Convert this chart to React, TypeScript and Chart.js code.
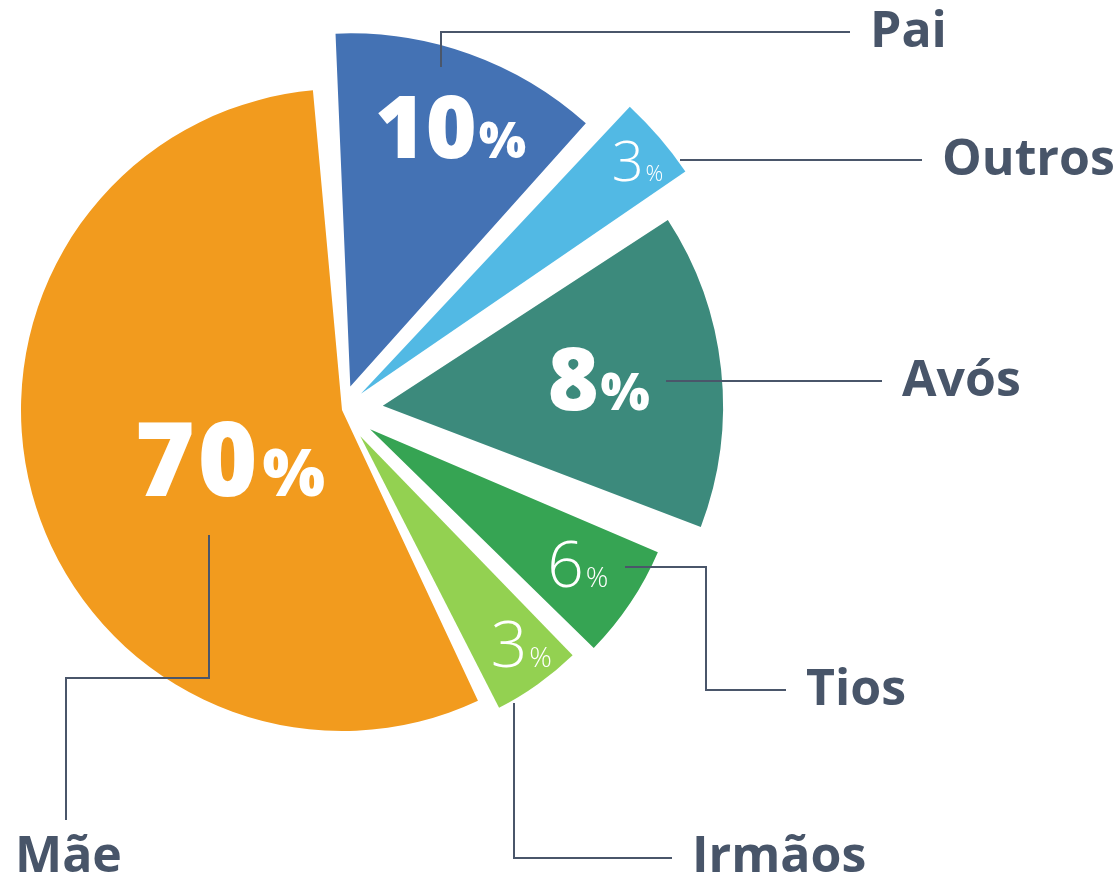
import React, { useEffect, useRef } from 'react';
import { Chart, registerables } from 'chart.js';

Chart.register(...registerables);

// ---- data ----
const categories = ['Pai', 'Outros', 'Avós', 'Tios', 'Irmãos', 'Mãe'];
// percentages printed on the slices
const percentValues = [10, 3, 8, 6, 3, 70];
// slice sizes as drawn in the picture (share of the full circle)
const sliceShares = [12.9, 3.6, 15.9, 6.4, 5.1, 56.1];

// ---- styles ----
const sliceColors = ['#4472B4', '#52B9E4', '#3C8A7C', '#36A453', '#93D151', '#F29B1E'];
const radiusScale = [1.1, 1.225, 1.06, 0.975, 0.95, 1.0];
const explodePx = [25, 25, 41, 34, 32, 0];
// angular padding (degrees) trimmed from each slice's start / end edge
const trimStartDeg = [1.4, 0.5, 1.3, 0.3, 0.0, 0.7];
const trimEndDeg = [0.8, 0.0, 2.0, 1.5, 1.3, 1.4];
const labelRadial = [0.79, 0.92, 0.64, 0.79, 0.86, 0.38];
const labelAngleShift = [1.3, 0.5, -1.2, -0.9, -2.3, -8.2];
const labelHeavy = [true, false, true, false, false, true];
const labelTrackingPx = [0, 0, 0, 0, 0, 3];
const numberFontPx = [87, 56, 87, 64, 64, 102];
const percentFontPx = [50, 22, 52, 28, 28, 66];
const TEXT_DARK = '#485569';

// ---- annotation layout ----
const leaderPaths: number[][][] = [
  [[441, 67], [441, 32], [850, 32]],
  [[680, 160], [922, 160]],
  [[666, 381], [882, 381]],
  [[625, 567], [706, 567], [706, 690], [786, 690]],
  [[514, 703], [514, 858], [672, 858]],
  [[209, 535], [209, 678], [66, 678], [66, 820]],
];
const nameAnchors: number[][] = [[870, 47], [942, 175], [902, 396], [806, 705], [692, 872], [15, 872]];

const DEG = Math.PI / 180;

const shapePlugin = {
  id: 'sliceShape',
  afterDatasetUpdate(chart: any, args: any) {
    const meta = chart.getDatasetMeta(args.index);
    meta.data.forEach((arc: any, i: number) => {
      const mid = (arc.startAngle + arc.endAngle) / 2;
      arc.x = arc.x + Math.cos(mid) * explodePx[i];
      arc.y = arc.y + Math.sin(mid) * explodePx[i];
      arc.outerRadius = arc.outerRadius * radiusScale[i];
      arc.startAngle = arc.startAngle + trimStartDeg[i] * DEG;
      arc.endAngle = arc.endAngle - trimEndDeg[i] * DEG;
      arc.circumference = arc.endAngle - arc.startAngle;
    });
  },
};

const overlayPlugin = {
  id: 'overlay',
  afterDatasetsDraw(chart: any) {
    const ctx: any = chart.ctx;
    const meta = chart.getDatasetMeta(0);
    ctx.save();
    ctx.strokeStyle = '#4A566A';
    ctx.lineWidth = 2;
    leaderPaths.forEach((path) => {
      ctx.beginPath();
      path.forEach(([x, y], k) => (k ? ctx.lineTo(x, y) : ctx.moveTo(x, y)));
      ctx.stroke();
    });

    ctx.textAlign = 'left';
    ctx.textBaseline = 'alphabetic';
    meta.data.forEach((arc: any, i: number) => {
      const ang = (arc.startAngle + arc.endAngle) / 2 + labelAngleShift[i] * DEG;
      const rr = arc.outerRadius * labelRadial[i];
      const cx = arc.x + Math.cos(ang) * rr;
      const cy = arc.y + Math.sin(ang) * rr;
      const weight = labelHeavy[i] ? 800 : 300;
      const numText = String(percentValues[i]);
      const numFont = `${weight} ${numberFontPx[i]}px "Open Sans"`;
      const pctFont = `${weight} ${percentFontPx[i]}px "Open Sans"`;
      ctx.letterSpacing = `${labelTrackingPx[i]}px`;
      ctx.font = numFont;
      const nm = ctx.measureText(numText);
      const nW = nm.width;
      const nAsc = nm.actualBoundingBoxAscent;
      ctx.letterSpacing = '0px';
      ctx.font = pctFont;
      const pW = ctx.measureText('%').width;
      const gap = 2;
      const total = nW + gap + pW;
      const x0 = cx - total / 2;
      const base = cy + nAsc / 2;
      ctx.fillStyle = '#ffffff';
      ctx.letterSpacing = `${labelTrackingPx[i]}px`;
      ctx.font = numFont;
      ctx.fillText(numText, x0, base);
      ctx.letterSpacing = '0px';
      ctx.font = pctFont;
      ctx.fillText('%', x0 + nW + gap, base);
    });

    ctx.font = '700 50px "Open Sans"';
    ctx.fillStyle = TEXT_DARK;
    categories.forEach((c, i) => ctx.fillText(c, nameAnchors[i][0], nameAnchors[i][1]));
    ctx.restore();
  },
};

export default function App() {
  const canvasRef = useRef<HTMLCanvasElement | null>(null);

  useEffect(() => {
    if (!canvasRef.current) return;
    const chart = new Chart(canvasRef.current, {
      type: 'pie',
      data: {
        labels: categories,
        datasets: [
          {
            data: sliceShares,
            backgroundColor: sliceColors,
            borderWidth: 0,
            hoverOffset: 0,
          },
        ],
      },
      options: {
        animation: false,
        responsive: true,
        maintainAspectRatio: false,
        rotation: -3.8,
        events: [],
        layout: { padding: { left: 20, right: 456, top: 89, bottom: 147 } },
        plugins: {
          legend: { display: false },
          tooltip: { enabled: false },
        },
      },
      plugins: [shapePlugin, overlayPlugin],
    });
    return () => chart.destroy();
  }, []);

  return (
    <div style={{ position: 'fixed', left: 0, top: 0, width: 1120, height: 878, background: '#ffffff' }}>
      <canvas ref={canvasRef} />
    </div>
  );
}
